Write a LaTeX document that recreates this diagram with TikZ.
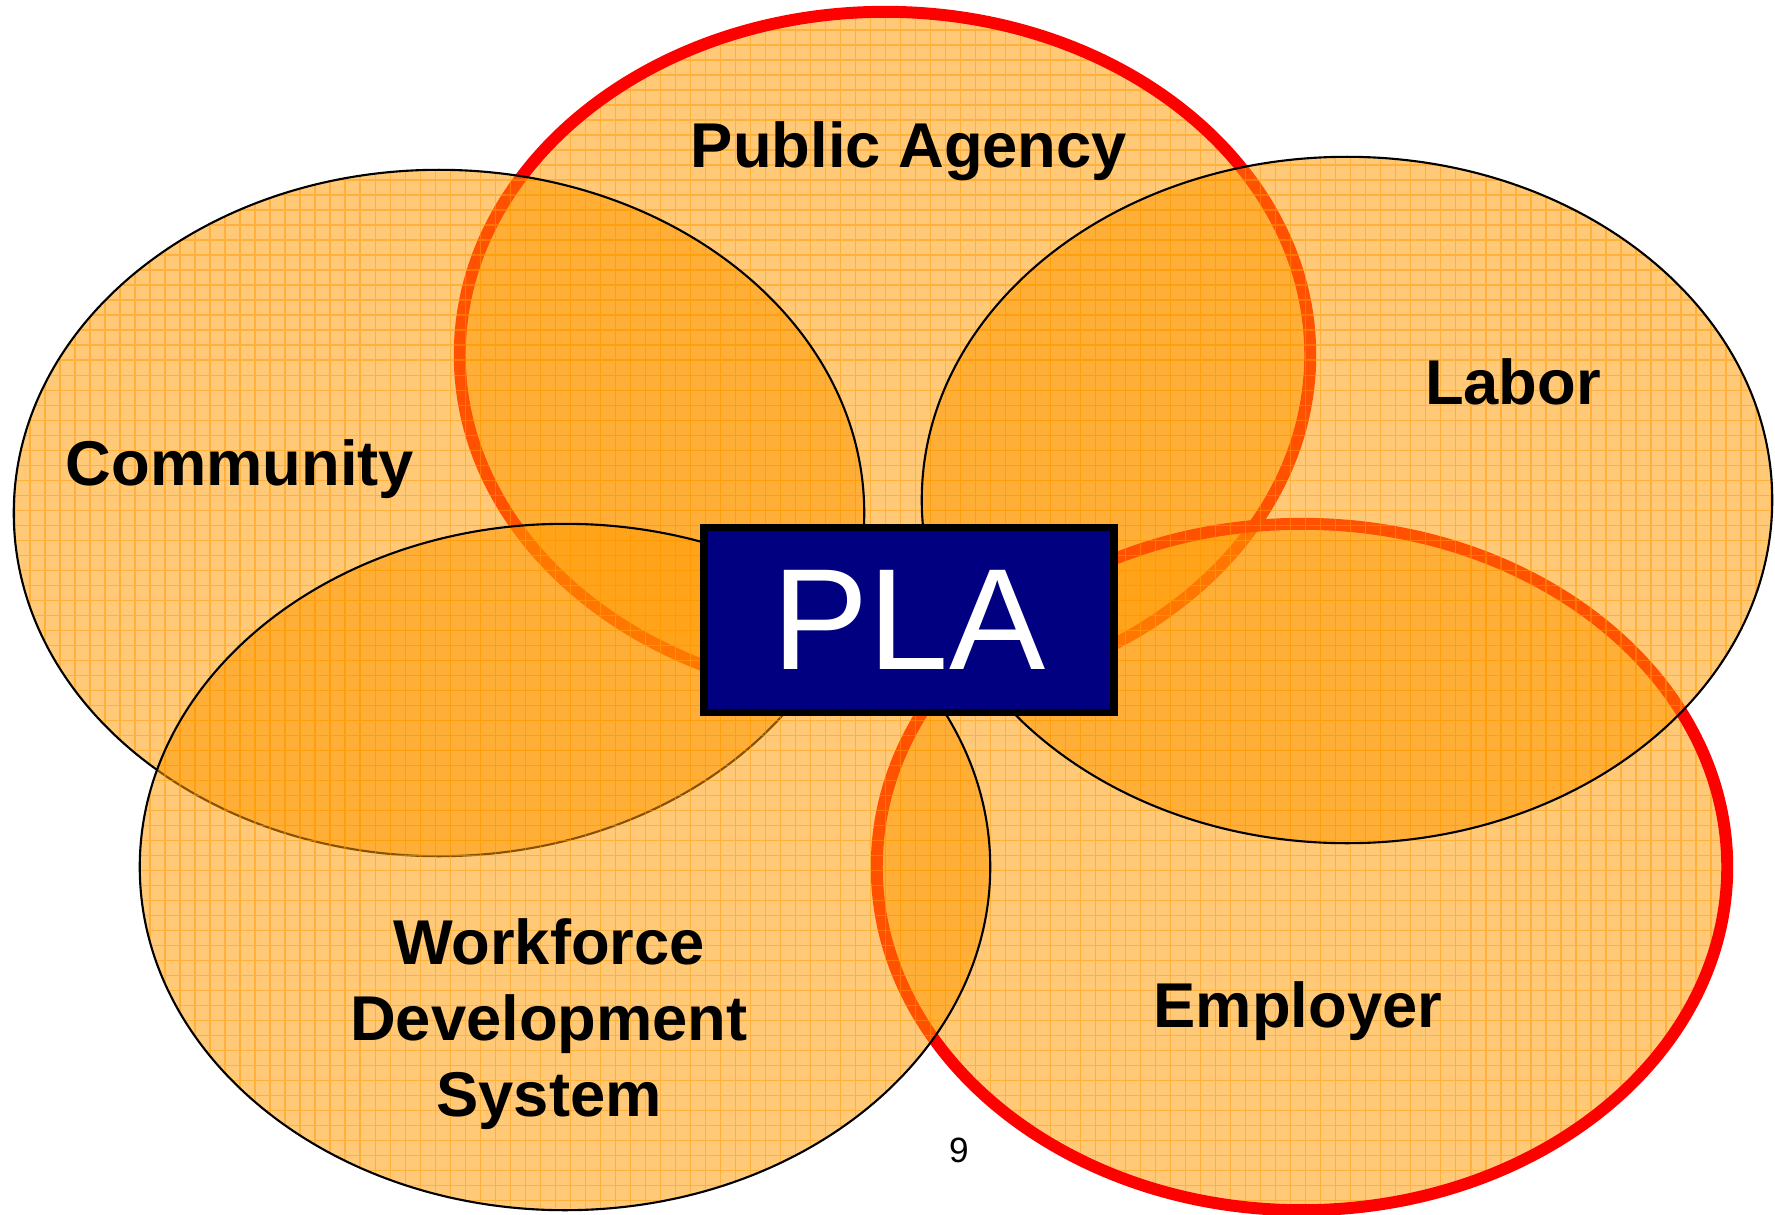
\documentclass[tikz,border=0pt]{standalone}
\usepackage{fontspec}
\setmainfont{Liberation Sans}

\definecolor{sectorfill}{RGB}{255,153,0}
\definecolor{plablue}{RGB}{0,0,128}

\tikzset{
	sectorlabel/.style={font=\bfseries\fontsize{18}{21.6}\selectfont, align=center},
}

\begin{document}
\begin{tikzpicture}[x=0.01cm, y=-0.01cm]
	\useasboundingbox (0,0) rectangle (1775,1215);
	% NOTE: y runs downwards here, one unit is one pixel of the slide.
	\foreach \cx/\cy/\col/\lw in {885/355/red/3.4pt, 1302/867/red/3.4pt,
		439/513/black/0.6pt, 1347/500/black/0.6pt, 565/867/black/0.6pt} {
		\fill[sectorfill, fill opacity=0.53] (\cx,\cy) ellipse [x radius=4.25cm, y radius=3.43cm];
		\begin{scope}
			\clip (\cx,\cy) ellipse [x radius=4.25cm, y radius=3.43cm];
			\draw[step=0.15cm, sectorfill, opacity=0.5, line width=0.4pt] (0,0) grid (1775,1215);
		\end{scope}
		\draw[\col, line width=\lw] (\cx,\cy) ellipse [x radius=4.25cm, y radius=3.43cm];
	}
	\node[sectorlabel, anchor=base] (agency) at (909,167) {Public Agency};
	\node[sectorlabel, anchor=base] (community) at (240,485) {Community};
	\node[sectorlabel, anchor=base] (labor) at (1513,404) {Labor};
	\node[sectorlabel, anchor=base] (employer) at (1298,1027) {Employer};
	\node[sectorlabel] (workforce) at (549,1024) {Workforce\\Development\\System};
	\node[draw=black, line width=2.2pt, fill=plablue, text=white,
		minimum width=4.1cm, minimum height=1.85cm,
		font=\fontsize{41}{41}\selectfont] (pla) at (909,620) {PLA};
	\node[font=\fontsize{10}{12}\selectfont] (page) at (959,1150) {9};
\end{tikzpicture}
\end{document}
